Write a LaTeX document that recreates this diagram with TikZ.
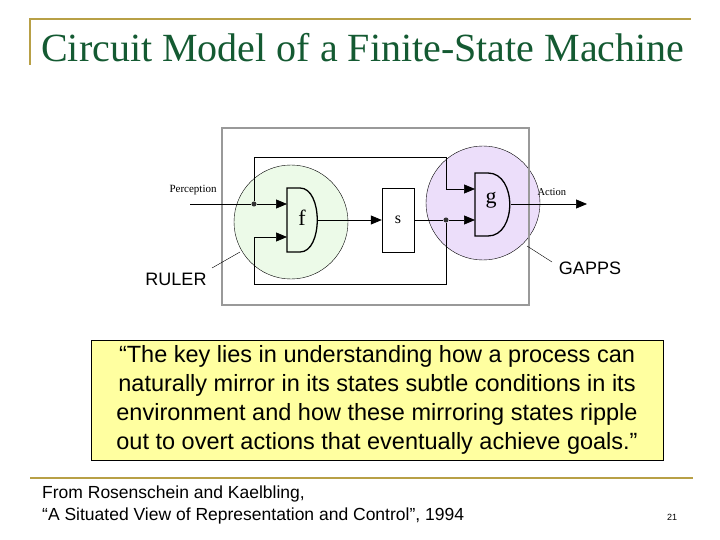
\documentclass[tikz,border=0pt]{standalone}
\usepackage{fontspec}
\setmainfont{Liberation Serif}
\newfontfamily\arial{Liberation Sans}
\usetikzlibrary{arrows.meta}
\definecolor{gold}{RGB}{184,160,70}
\definecolor{tgreen}{RGB}{20,90,50}
\definecolor{lgreen}{RGB}{236,250,232}
\definecolor{lpurple}{RGB}{236,222,250}
\definecolor{qyellow}{RGB}{255,255,160}
\begin{document}
\begin{tikzpicture}[x=1pt,y=-1pt,
  wire/.style={line width=0.7pt},
  arr/.style={wire,-{Triangle[length=11pt,width=9pt]}},
  dot/.style={circle,fill=black!80,inner sep=1.8pt},
  gate/.style={line width=1.3pt},
  lab/.style={font=\arial\fontsize{18}{20}\selectfont}]
\useasboundingbox (0,0) rectangle (720,540);
% header
\draw[gold,line width=1.5pt] (30,65) -- (30,19) -- (691,19);
\node[anchor=base west,text=tgreen,font=\fontsize{40}{44}\selectfont,inner sep=0] (title) at (41,62) {Circuit Model of a Finite-State Machine};
% circles
\node[circle,draw,thin,fill=lgreen,minimum size=114pt] (ruler) at (291,222) {};
\node[circle,draw,thin,fill=lpurple,minimum size=114pt] (gapps) at (483,203) {};
% box
\draw[black!40,line width=2.5pt] (222,128) rectangle (529,305);
% gates
\draw[gate] (287,188) -- (300,188) .. controls (323,188) and (323,252) .. (300,252) -- (287,252) -- cycle;
\node[font=\fontsize{22}{22}\selectfont] (f) at (302,218) {f};
\draw[gate] (475,173) -- (488,173) .. controls (517,173) and (517,236) .. (488,236) -- (475,236) -- cycle;
\node[font=\fontsize{22}{22}\selectfont] (g) at (491,200) {g};
\node[draw,fill=white,minimum width=32pt,minimum height=64pt,font=\fontsize{16}{16}\selectfont] (s) at (398,220) {s};
% wires
\coordinate (pin) at (190,204);
\node[dot] (j1) at (254,204) {};
\node[dot] (j2) at (446,220) {};
\draw[wire] (pin) -- (j1);
\draw[arr] (j1) -- (287,204);
\draw[arr] (318,220) -- (s.west);
\draw[wire] (s.east) -- (j2);
\draw[arr] (j2) -- (475,220);
\draw[wire] (j1) -- (254,157) -- (446,157) -- (446,189);
\draw[arr] (446,189) -- (475,189);
\draw[wire] (j2) -- (446,284) -- (254,284) -- (254,237);
\draw[arr] (254,237) -- (287,237);
\coordinate (aout) at (587,204);
\draw[arr] (511,204) -- (aout);
\node[font=\fontsize{11}{12}\selectfont,anchor=west] (perc) at (166,190) {Perception};
\node[font=\fontsize{10.5}{12}\selectfont,anchor=west] (act) at (534,192) {Action};
% labels
\node[lab] (rl) at (176,279) {RULER};
\node[lab] (gl) at (590,268) {GAPPS};
\draw[thin] (240,252) -- (212,268);
\draw[thin] (527,246) -- (552,262);
% quote
\node[draw,fill=qyellow,minimum width=572pt,minimum height=120pt,align=center,
  font=\arial\fontsize{23.5}{29}\selectfont] (q) at (377,400)
  {“The key lies in understanding how a process can\\
   naturally mirror in its states subtle conditions in its\\
   environment and how these mirroring states ripple\\
   out to overt actions that eventually achieve goals.”};
% footer
\draw[gold,line width=1.5pt] (30,478) -- (693,478);
\node[anchor=west,align=left,font=\arial\fontsize{17.5}{22}\selectfont,inner sep=0] (ref) at (42,505)
  {From Rosenschein and Kaelbling,\\“A Situated View of Representation and Control”, 1994};
\node[font=\arial\fontsize{9}{9}\selectfont] (pg) at (672,517) {21};
\end{tikzpicture}
\end{document}
